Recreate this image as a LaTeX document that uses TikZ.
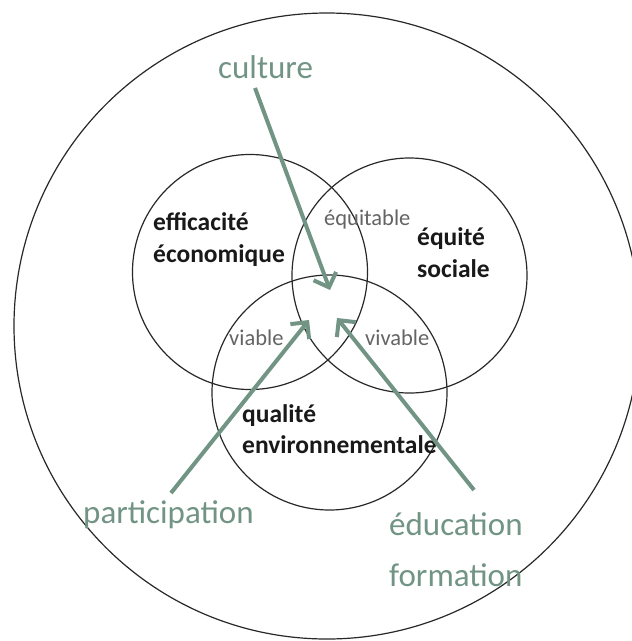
\documentclass[tikz,border=0pt]{standalone}
\usepackage{fontspec}
\setmainfont{Carlito}
\usetikzlibrary{arrows.meta}
\definecolor{sage}{RGB}{113,148,133}
\definecolor{labgray}{RGB}{100,100,100}
\definecolor{ring}{RGB}{40,40,40}
\tikzset{
  ringline/.style={draw=ring, line width=1.2pt},
  venn/.style={ringline, circle, minimum size=235pt, inner sep=0pt},
  mainlab/.style={font=\fontsize{25.5}{32}\selectfont\bfseries, text=black!90, anchor=base west, inner sep=0pt},
  sublab/.style={font=\fontsize{22.5}{28}\selectfont, text=labgray, anchor=base west, inner sep=0pt},
  actlab/.style={font=\fontsize{33}{40}\selectfont, text=sage, anchor=base west, inner sep=0pt},
  actarrow/.style={draw=sage, line width=4pt, -{Straight Barb[length=12pt,width=24pt]}},
}
\begin{document}
\begin{tikzpicture}[x=1pt,y=-1pt]
\useasboundingbox (0,0) rectangle (632,641);
\fill[white] (0,0) rectangle (632,641);
% outer ring
\node[ringline, circle, minimum size=626pt, inner sep=0pt] (outer) at (327,326) {};
% venn circles
\node[venn] (eco) at (250,272) {};
\node[venn] (soc) at (409.5,275.5) {};
\node[venn] (env) at (329.5,392.5) {};
% main labels
\node[mainlab] (eco1) at (153,230) {efficacité};
\node[mainlab] (eco2) at (153,262) {économique};
\node[mainlab] (soc1) at (417,245) {équité};
\node[mainlab] (soc2) at (417,277) {sociale};
\node[mainlab] (env1) at (242,422) {qualité};
\node[mainlab] (env2) at (242,453) {environnementale};
% intersection labels
\node[sublab] (equi) at (324,225) {équitable};
\node[sublab] (via) at (229,345) {viable};
\node[sublab] (viv) at (365,345) {vivable};
% action labels
\node[actlab] (cult) at (218,78) {culture};
\node[actlab] (part) at (83,523) {participation};
\node[actlab] (edu1) at (389,535) {éducation};
\node[actlab] (edu2) at (389,586) {formation};
% arrows
\coordinate (cultS) at (255,88);
\coordinate (cultT) at (330,290);
\coordinate (partS) at (171,493);
\coordinate (partT) at (309,320);
\coordinate (eduS) at (474,490);
\coordinate (eduT) at (337,318);
\draw[actarrow] (cultS) -- (cultT);
\draw[actarrow] (partS) -- (partT);
\draw[actarrow] (eduS) -- (eduT);
\end{tikzpicture}
\end{document}
